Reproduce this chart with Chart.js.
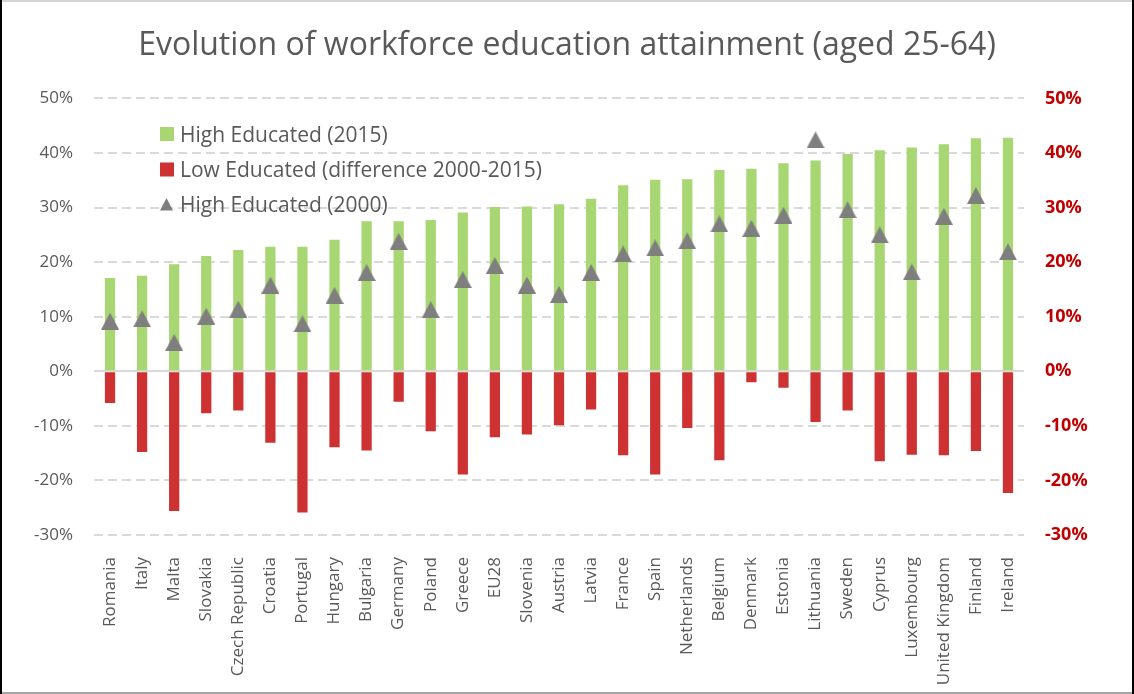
<!DOCTYPE html>
<html>
<head>
<meta charset="utf-8">
<title>Workforce education attainment</title>
<script src="https://cdn.jsdelivr.net/npm/chart.js@4.4.1/dist/chart.umd.min.js"></script>
<style>
  html, body { margin: 0; padding: 0; background: #fff; }
  #wrap { width: 1134px; height: 694px; position: relative; }
</style>
</head>
<body>
<div id="wrap"><canvas id="myChart"></canvas></div>
<script>
// Countries, sorted by share of high educated workers in 2015
const countries = ['Romania', 'Italy', 'Malta', 'Slovakia', 'Czech Republic', 'Croatia', 'Portugal',
    'Hungary', 'Bulgaria', 'Germany', 'Poland', 'Greece', 'EU28', 'Slovenia', 'Austria', 'Latvia',
    'France', 'Spain', 'Netherlands', 'Belgium', 'Denmark', 'Estonia', 'Lithuania', 'Sweden',
    'Cyprus', 'Luxembourg', 'United Kingdom', 'Finland', 'Ireland'];

// Values in percent
const highEducated2015 = [17.1, 17.5, 19.6, 21.1, 22.2, 22.8, 22.8, 24.1, 27.5, 27.5, 27.7, 29.1, 30.1, 30.2,
    30.6, 31.6, 34.1, 35.1, 35.2, 36.9, 37.1, 38.1, 38.6, 39.8, 40.5, 41.0, 41.6, 42.7, 42.8];
const lowEducatedDiff = [-5.8, -14.8, -25.6, -7.7, -7.2, -13.1, -25.9, -13.9, -14.5, -5.6, -11.0, -18.9, -12.1, -11.6,
    -9.9, -7.0, -15.4, -18.9, -10.4, -16.3, -2.0, -3.0, -9.3, -7.2, -16.5, -15.3, -15.4, -14.6, -22.3];
const highEducated2000 = [9.2, 9.6, 5.3, 10.1, 11.4, 15.8, 8.7, 13.9, 18.1, 23.8, 11.3, 16.8, 19.4, 15.8,
    14.1, 18.1, 21.5, 22.6, 23.9, 27.0, 26.2, 28.6, 42.4, 29.6, 25.0, 18.2, 28.4, 32.2, 21.9];

// Axis ticks
const axisMin = -30;
const axisMax = 50;
const axisStep = 10;

const GREEN = '#A8D672';
const RED = '#CD3131';
const GREY = '#7F7F7F';
const TEXT = '#595959';
const FONT = "'Open Sans', sans-serif";

// Triangle marker centred in its own box (like office charts do)
function makeTriangle(w, h, color) {
    const c = document.createElement('canvas');
    c.width = w;
    c.height = h;
    const g = c.getContext('2d');
    g.fillStyle = color;
    g.beginPath();
    g.moveTo(w / 2, 0);
    g.lineTo(w, h);
    g.lineTo(0, h);
    g.closePath();
    g.fill();
    return c;
}
const triangleMarker = makeTriangle(18, 17, GREY);

// Legend drawn inside the plot area, top left
const insideLegend = {
    id: 'insideLegend',
    afterDraw(chart) {
        const ctx = chart.ctx;
        const x = 160;
        const rows = [134, 169.5, 204.5];
        ctx.save();
        chart.data.datasets.forEach((ds, i) => {
            const cy = rows[i];
            ctx.fillStyle = ds.legendColor;
            if (ds.type === 'line') {
                ctx.beginPath();
                ctx.moveTo(x + 6.5, cy - 6.5);
                ctx.lineTo(x + 13, cy + 6);
                ctx.lineTo(x, cy + 6);
                ctx.closePath();
                ctx.fill();
            } else {
                ctx.fillRect(x, cy - 7, 14, 14);
            }
            ctx.fillStyle = TEXT;
            ctx.font = '21px ' + FONT;
            ctx.textBaseline = 'alphabetic';
            ctx.textAlign = 'left';
            ctx.fillText(ds.label, x + 20, cy + 7.5);
        });
        ctx.restore();
    }
};

// White background and thin frame round the chart
const frame = {
    id: 'frame',
    beforeDraw(chart) {
        const ctx = chart.ctx;
        ctx.save();
        ctx.fillStyle = '#fff';
        ctx.fillRect(0, 0, chart.width, chart.height);
        ctx.restore();
    },
    afterDraw(chart) {
        const ctx = chart.ctx;
        const w = chart.width, h = chart.height;
        ctx.save();
        ctx.fillStyle = '#D4D4D4';
        ctx.fillRect(0, 0, w, 2);
        ctx.fillStyle = '#A6A6A6';
        ctx.fillRect(0, h - 2, w, 2);
        ctx.fillStyle = '#000';
        ctx.fillRect(0, 0, 2, h);
        ctx.fillRect(w - 2, 0, 2, h);
        ctx.restore();
    }
};

const pct = v => Math.round(v) + '%';

new Chart(document.getElementById('myChart'), {
    data: {
        labels: countries,
        datasets: [
            {
                type: 'bar',
                label: 'High Educated (2015)',
                data: highEducated2015,
                backgroundColor: GREEN,
                legendColor: GREEN,
                grouped: false,
                barPercentage: 0.32,
                categoryPercentage: 1,
                order: 2
            },
            {
                type: 'bar',
                label: 'Low Educated (difference 2000-2015)',
                data: lowEducatedDiff,
                backgroundColor: RED,
                legendColor: RED,
                grouped: false,
                barPercentage: 0.32,
                categoryPercentage: 1,
                order: 1
            },
            {
                type: 'line',
                label: 'High Educated (2000)',
                data: highEducated2000,
                showLine: false,
                pointStyle: triangleMarker,
                pointRadius: 9,
                pointHoverRadius: 9,
                legendColor: GREY,
                order: 0
            }
        ]
    },
    options: {
        responsive: true,
        maintainAspectRatio: false,
        animation: false,
        layout: { padding: 0 },
        scales: {
            x: {
                grid: { display: false },
                border: { display: false },
                ticks: {
                    autoSkip: false,
                    maxRotation: 90,
                    minRotation: 90,
                    padding: 14,
                    color: TEXT,
                    font: { family: FONT, size: 17 }
                },
                afterFit(scale) { scale.height = 159; }
            },
            y: {
                position: 'left',
                min: axisMin,
                max: axisMax,
                ticks: {
                    stepSize: axisStep,
                    padding: 21,
                    color: TEXT,
                    font: { family: FONT, size: 17 },
                    callback: pct
                },
                grid: {
                    drawTicks: false,
                    lineWidth: 2,
                    color: '#D9D9D9'
                },
                border: {
                    display: false,
                    dash: ctx => (ctx.tick && ctx.tick.value === 0) ? [] : [9, 5]
                },
                afterFit(scale) { scale.width = 94; }
            },
            y2: {
                position: 'right',
                min: axisMin,
                max: axisMax,
                ticks: {
                    stepSize: axisStep,
                    padding: 21,
                    color: '#C00000',
                    font: { family: FONT, size: 18, weight: 'bold' },
                    callback: pct
                },
                grid: { display: false, drawTicks: false },
                border: { display: false },
                afterFit(scale) { scale.width = 110; }
            }
        },
        plugins: {
            legend: { display: false },
            tooltip: { enabled: true },
            title: {
                display: true,
                text: 'Evolution of workforce education attainment (aged 25-64)',
                color: TEXT,
                padding: { top: 27, bottom: 33 },
                font: { family: FONT, size: 32, weight: 'normal', lineHeight: 1.2 }
            }
        }
    },
    plugins: [frame, insideLegend]
});
</script>
</body>
</html>
